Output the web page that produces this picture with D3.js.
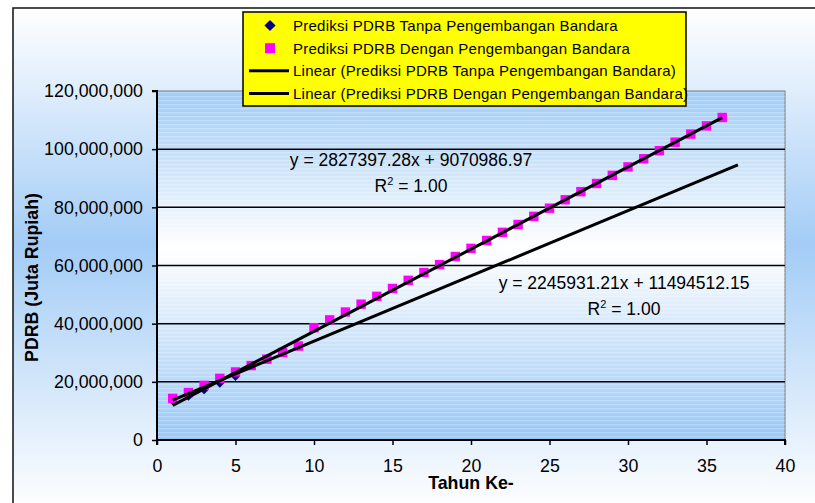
<!DOCTYPE html>
<html>
<head>
<meta charset="utf-8">
<script src="https://cdn.jsdelivr.net/npm/d3@7"></script>
<style>
  body { margin: 0; background: #fff; }
  svg text { font-family: "Liberation Sans", Arial, sans-serif; }
</style>
</head>
<body>
<div id="chart"></div>
<script>
// data
const tahunTanpa = [1, 2, 3, 4, 5]
const pdrbTanpa = [13.4e6, 15.0e6, 17.2e6, 19.5e6, 21.8e6]

const tahunDengan = d3.range(1, 37)
const pdrbDengan = [14.3e6, 16.3e6, 18.8e6, 21.2e6, 23.4e6, 25.6e6, 27.8e6, 30.1e6, 32.3e6,
    38.6e6, 41.3e6, 44.0e6, 46.7e6, 49.4e6, 52.1e6, 54.9e6, 57.6e6, 60.3e6, 63.1e6,
    65.9e6, 68.6e6, 71.4e6, 74.1e6, 76.9e6, 79.7e6, 82.6e6, 85.4e6, 88.2e6, 91.0e6,
    93.9e6, 96.7e6, 99.5e6, 102.4e6, 105.2e6, 108.0e6, 110.9e6]

// trendlines: [slope, intercept, xFrom, xTo]
const trendTanpa = [2245931.21, 11494512.15, 1, 37]
const trendDengan = [2827397.28, 9070986.97, 1, 36]

const xTicks = [0, 5, 10, 15, 20, 25, 30, 35, 40]
const yTicks = [0, 20e6, 40e6, 60e6, 80e6, 100e6, 120e6]

const legendLabels = ["Prediksi PDRB Tanpa Pengembangan Bandara",
    "Prediksi PDRB Dengan Pengembangan Bandara",
    "Linear (Prediksi PDRB Tanpa Pengembangan Bandara)",
    "Linear (Prediksi PDRB Dengan Pengembangan Bandara)"]

const W = 815, H = 503
const plot = { left: 157, right: 785, top: 91, bottom: 440 }

const svg = d3.select("#chart").append("svg")
    .attr("width", W).attr("height", H)

const defs = svg.append("defs")
const bg = defs.append("linearGradient").attr("id", "bgGrad")
    .attr("x1", 0).attr("y1", 0).attr("x2", 0).attr("y2", 1)
bg.append("stop").attr("offset", 0).attr("stop-color", "#ffffff")
bg.append("stop").attr("offset", 0.47).attr("stop-color", "#a3ccf6")
bg.append("stop").attr("offset", 1).attr("stop-color", "#ffffff")

const pg = defs.append("linearGradient").attr("id", "plotGrad")
    .attr("x1", 0).attr("y1", 0).attr("x2", 0).attr("y2", 1)
pg.append("stop").attr("offset", 0).attr("stop-color", "#9ecbf7")
pg.append("stop").attr("offset", 0.45).attr("stop-color", "#ffffff")
pg.append("stop").attr("offset", 1).attr("stop-color", "#98c7f7")

const stripes = defs.append("pattern").attr("id", "stripes")
    .attr("width", 10).attr("height", 4).attr("patternUnits", "userSpaceOnUse")
stripes.append("rect").attr("width", 10).attr("height", 1.3)
    .attr("fill", "#ffffff").attr("opacity", 0.25)

// chart area
svg.append("rect").attr("x", 13).attr("y", 8).attr("width", W).attr("height", H)
    .attr("fill", "url(#bgGrad)").attr("stroke", "#111").attr("stroke-width", 1.5)

const x = d3.scaleLinear().domain([0, 40]).range([plot.left, plot.right])
const y = d3.scaleLinear().domain([0, 120e6]).range([plot.bottom, plot.top])

// plot area
svg.append("rect").attr("x", plot.left).attr("y", plot.top)
    .attr("width", plot.right - plot.left).attr("height", plot.bottom - plot.top)
    .attr("fill", "url(#plotGrad)").attr("stroke", "#8a8a8a").attr("stroke-width", 1.2)
svg.append("rect").attr("x", plot.left).attr("y", plot.top)
    .attr("width", plot.right - plot.left).attr("height", plot.bottom - plot.top)
    .attr("fill", "url(#stripes)")

// gridlines
svg.append("g").selectAll("line").data(yTicks.filter(d => d > 0 && d < 120e6)).join("line")
    .attr("x1", plot.left).attr("x2", plot.right)
    .attr("y1", d => y(d)).attr("y2", d => y(d))
    .attr("stroke", "#000").attr("stroke-width", 1.5)

// axes
const yAxis = svg.append("g").attr("transform", `translate(${plot.left},0)`)
    .call(d3.axisLeft(y).tickValues(yTicks).tickSize(5).tickPadding(9).tickFormat(d3.format(",")))
const xAxis = svg.append("g").attr("transform", `translate(0,${plot.bottom})`)
    .call(d3.axisBottom(x).tickValues(xTicks).tickSize(5).tickPadding(14))
for (const ax of [xAxis, yAxis]) {
    ax.select(".domain").attr("stroke", "#000").attr("stroke-width", 2)
    ax.selectAll(".tick line").attr("stroke", "#000").attr("stroke-width", 1.5)
    ax.selectAll("text").attr("font-size", 17.8).attr("fill", "#000")
        .style("font-family", '"Liberation Sans", Arial, sans-serif')
}
yAxis.select(".domain").attr("d", `M-5,${plot.top}H0V${plot.bottom}`)
xAxis.select(".domain").attr("d", `M${plot.left},5V0H${plot.right}V5`)

// axis titles
svg.append("text").attr("transform", `translate(38,${(plot.top + plot.bottom) / 2 + 12}) rotate(-90)`)
    .attr("text-anchor", "middle").attr("font-size", 17.8).attr("font-weight", "bold")
    .text("PDRB (Juta Rupiah)")
svg.append("text").attr("x", (plot.left + plot.right) / 2).attr("y", 489)
    .attr("text-anchor", "middle").attr("font-size", 17.8).attr("font-weight", "bold")
    .text("Tahun Ke-")

// markers
const tanpa = tahunTanpa.map((t, i) => ({ t, v: pdrbTanpa[i] }))
const dengan = tahunDengan.map((t, i) => ({ t, v: pdrbDengan[i] }))

svg.append("g").selectAll("path").data(tanpa).join("path")
    .attr("transform", d => `translate(${x(d.t)},${y(d.v)})`)
    .attr("d", d3.symbol(d3.symbolDiamond2, 48))
    .attr("fill", "#000080")

svg.append("g").selectAll("rect").data(dengan).join("rect")
    .attr("x", d => x(d.t) - 4.7).attr("y", d => y(d.v) - 4.7)
    .attr("width", 9.4).attr("height", 9.4).attr("fill", "#ff00ff")

// trendlines
for (const tr of [trendTanpa, trendDengan]) {
    const [m, b, x0, x1] = tr
    svg.append("line")
        .attr("x1", x(x0)).attr("y1", y(m * x0 + b))
        .attr("x2", x(x1)).attr("y2", y(m * x1 + b))
        .attr("stroke", "#000").attr("stroke-width", 3)
}

// equation labels
function eqLabel(cx, by, eq) {
    svg.append("text").attr("x", cx).attr("y", by).attr("text-anchor", "middle")
        .attr("font-size", 17.5).text(eq)
    const r = svg.append("text").attr("x", cx).attr("y", by + 26).attr("text-anchor", "middle")
        .attr("font-size", 17.5)
    r.append("tspan").text("R")
    r.append("tspan").attr("font-size", 11).attr("dy", -7).text("2")
    r.append("tspan").attr("dy", 7).text(" = 1.00")
}
eqLabel(411, 166, "y = 2827397.28x + 9070986.97")
eqLabel(624, 289, "y = 2245931.21x + 11494512.15")

// legend
const lg = svg.append("g")
lg.append("rect").attr("x", 243).attr("y", 12).attr("width", 443).attr("height", 94)
    .attr("fill", "#ffff00").attr("stroke", "#000").attr("stroke-width", 1.5)
const rowY = [25.5, 48.2, 70.8, 93.4]
lg.selectAll("text").data(legendLabels).join("text")
    .attr("x", 293).attr("y", (d, i) => rowY[i] + 5.3)
    .attr("font-size", 15).attr("letter-spacing", 0.25).text(d => d)
lg.append("path").attr("transform", `translate(270,${rowY[0]})`)
    .attr("d", d3.symbol(d3.symbolDiamond2, 80)).attr("fill", "#000080")
lg.append("rect").attr("x", 265).attr("y", rowY[1] - 5).attr("width", 10).attr("height", 10)
    .attr("fill", "#ff00ff")
lg.selectAll("line").data(rowY.slice(2)).join("line")
    .attr("x1", 249).attr("x2", 289).attr("y1", d => d).attr("y2", d => d)
    .attr("stroke", "#000").attr("stroke-width", 3)
</script>
</body>
</html>
